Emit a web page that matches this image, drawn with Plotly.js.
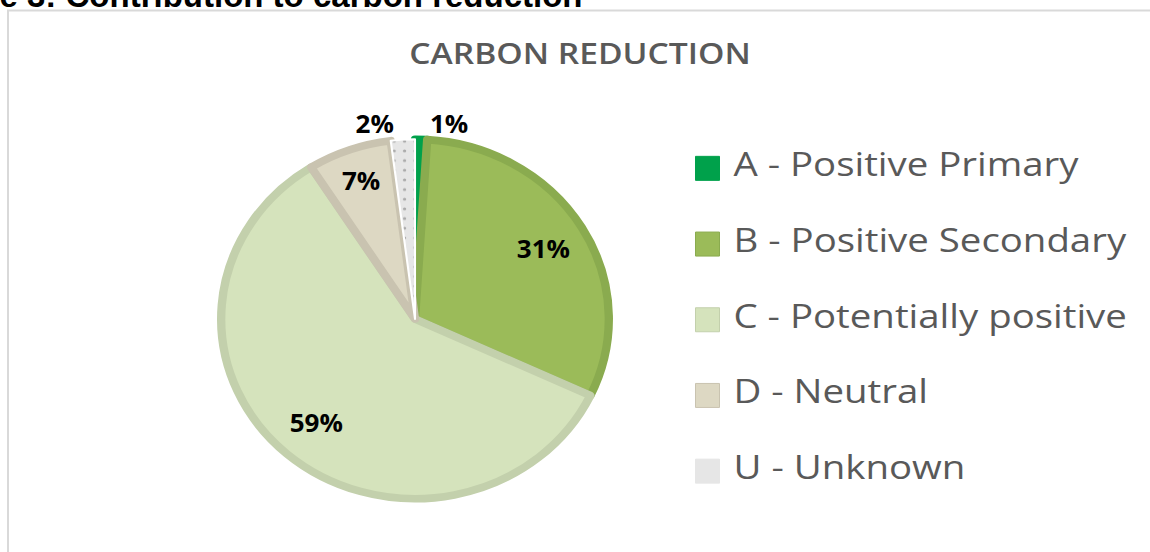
<!DOCTYPE html>
<html>
<head>
<meta charset="utf-8">
<script src="https://cdn.plot.ly/plotly-3.0.1.min.js"></script>
<style>
html,body{margin:0;padding:0;background:#fff;overflow:hidden}
#chart{width:1150px;height:552px}
.gtitle{transform-box:fill-box;transform-origin:center;transform:scaleX(1.2)}
.scatterlayer .textpoint text{transform-box:fill-box;transform-origin:left center;transform:scaleX(1.2)}
.pielayer{transform-origin:415px 319px;transform:scale(1.042,0.966)}
</style>
</head>
<body>
<div id="chart"></div>
<script>
// ---- data ----
var categories = ['A - Positive Primary', 'B - Positive Secondary', 'C - Potentially positive', 'D - Neutral', 'U - Unknown'];
var shares = [1, 31, 59, 7, 2];
var fillColors = ['#00a14b', '#9bbb59', '#d5e3bc', '#ddd8c3', '#e6e6e6'];
var edgeColors = ['#00a14b', '#8aab4f', '#c3d0ac', '#c9c3b0', '#ffffff'];
var edgeWidths = [8, 8, 8, 8, 2];
var patternShapes = ['', '', '', '', '.'];
var patternBackgrounds = fillColors;
var outsideLabelPositions = ['outside', 'none', 'none', 'none', 'outside'];
var insideLabelPositions = ['none', 'inside', 'inside', 'inside', 'none'];
var chartTitle = 'CARBON REDUCTION';
var pageHeading = 'Figure 3: Contribution to carbon reduction';

var W = 1150, H = 552;
var pieDomain = {x: [229 / W, 601 / W], y: [1 - 505 / H, 1 - 133 / H]};

// coloured pie (with the small outside labels)
var pie = {
  type: 'pie',
  labels: categories,
  values: shares,
  sort: false,
  direction: 'clockwise',
  rotation: 0,
  domain: pieDomain,
  marker: {
    colors: fillColors,
    line: {color: edgeColors, width: edgeWidths},
    pattern: {shape: patternShapes, fgcolor: '#6f6f6f', bgcolor: patternBackgrounds, fillmode: 'overlay', size: 10, solidity: 0.08}
  },
  texttemplate: '%{percent:.0%}',
  textposition: outsideLabelPositions,
  outsidetextfont: {family: 'Open Sans', size: 25, color: '#000000', weight: 'bold'},
  hoverinfo: 'label+percent',
  showlegend: false
};

// transparent overlay of the same data, used only to place the inside labels further out
var pieLabels = {
  type: 'pie',
  labels: categories,
  values: shares,
  sort: false,
  direction: 'clockwise',
  rotation: 0,
  hole: 0.54,
  domain: pieDomain,
  marker: {colors: categories.map(function () { return 'rgba(0,0,0,0)'; }), line: {width: 0}},
  texttemplate: '%{percent:.0%}',
  textposition: insideLabelPositions,
  insidetextorientation: 'horizontal',
  insidetextfont: {family: 'Open Sans', size: 25, color: '#000000', weight: 'bold'},
  hoverinfo: 'skip',
  showlegend: false
};

var legendTrace = {
  type: 'scatter',
  mode: 'markers+text',
  xaxis: 'x2',
  yaxis: 'y2',
  x: categories.map(function () { return 0; }),
  y: categories,
  text: categories,
  texttemplate: '\u00a0%{text}',
  textposition: 'middle right',
  textfont: {family: 'Open Sans', size: 32, color: '#595959'},
  marker: {symbol: 'square', size: 24, color: fillColors, line: {color: edgeColors.map(function (c, i) { return i === 4 ? fillColors[i] : c; }), width: 1}},
  cliponaxis: false,
  hoverinfo: 'skip',
  showlegend: false
};

var layout = {
  width: W,
  height: H,
  margin: {l: 0, r: 0, t: 0, b: 0},
  paper_bgcolor: '#ffffff',
  plot_bgcolor: 'rgba(0,0,0,0)',
  showlegend: false,
  title: {
    text: chartTitle,
    x: 580 / W, xanchor: 'center',
    y: 1 - 54 / H, yanchor: 'middle',
    font: {family: 'Open Sans', size: 28, color: '#595959', weight: 600}
  },
  xaxis: {visible: false},
  yaxis: {visible: false},
  xaxis2: {domain: [707.5 / W, 1], range: [0, 1], visible: false, fixedrange: true},
  yaxis2: {domain: [1 - 509 / H, 1 - 130.5 / H], type: 'category', range: [4.5, -0.5], visible: false, fixedrange: true, anchor: 'x2'},
  shapes: [{
    type: 'rect', xref: 'paper', yref: 'paper',
    x0: 8 / W, x1: 1.2, y0: -0.2, y1: 1 - 10.5 / H,
    line: {color: '#d9d9d9', width: 2}, fillcolor: 'rgba(0,0,0,0)', layer: 'below'
  }],
  annotations: [{
    text: pageHeading,
    xref: 'paper', yref: 'paper',
    x: 584 / W, xanchor: 'right',
    y: 1 - 16 / H, yanchor: 'bottom',
    showarrow: false,
    font: {family: 'Liberation Sans', size: 33, color: '#000000', weight: 'bold'}
  }]
};

Plotly.newPlot('chart', [pie, pieLabels, legendTrace], layout, {displayModeBar: false, staticPlot: true});
</script>
</body>
</html>
